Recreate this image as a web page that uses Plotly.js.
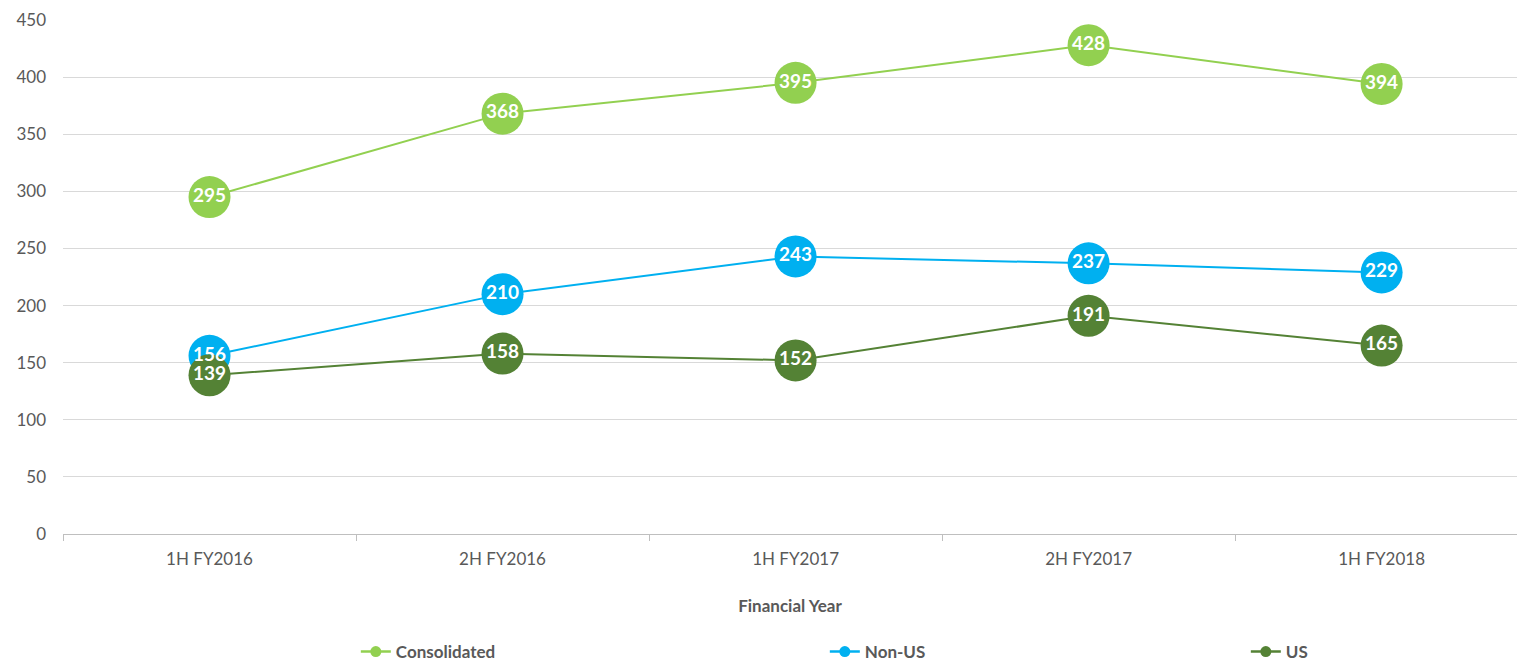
<!DOCTYPE html>
<html>
<head>
<meta charset="utf-8">
<script src="https://cdn.plot.ly/plotly-3.0.1.min.js"></script>
<style>html,body{margin:0;padding:0;background:#fff;}#chart{width:1517px;height:661px;}</style>
</head>
<body>
<div id="chart"></div>
<script>
const categories = ["1H FY2016", "2H FY2016", "1H FY2017", "2H FY2017", "1H FY2018"];
const consolidated = [295, 368, 395, 428, 394];
const nonUS = [156, 210, 243, 237, 229];
const us = [139, 158, 152, 191, 165];
const yTicks = [0, 50, 100, 150, 200, 250, 300, 350, 400, 450];

const FONT = "Lato, 'Noto Sans', sans-serif";
const series = [
  {name: "Consolidated", y: consolidated, color: "#92D050", legend: "legend"},
  {name: "Non-US", y: nonUS, color: "#00B0F0", legend: "legend2"},
  {name: "US", y: us, color: "#548235", legend: "legend3"}
];

const traces = [];
// lines and markers first
series.forEach(s => {
  traces.push({
    type: "scatter", mode: "lines+markers",
    x: categories, y: s.y, name: s.name, showlegend: false,
    line: {color: s.color, width: 2},
    marker: {color: s.color, size: 42},
    hoverinfo: "x+y+name"
  });
});
// data labels on top of all markers (as in the reference)
series.forEach(s => {
  traces.push({
    type: "scatter", mode: "text",
    x: categories, y: s.y, name: s.name, showlegend: false,
    text: s.y.map(String), textposition: "middle center",
    textfont: {color: "#ffffff", size: 19, family: FONT, weight: "bold"},
    hoverinfo: "skip"
  });
});
// legend entries
series.forEach(s => {
  traces.push({
    type: "scatter", mode: "lines+markers",
    x: [null], y: [null], name: s.name, showlegend: true, legend: s.legend,
    line: {color: s.color, width: 2.5},
    marker: {color: s.color, size: 11}
  });
});

const legendBase = {orientation: "h", xref: "paper", yref: "container", yanchor: "middle", xanchor: "left",
  y: 9 / 661, font: {family: FONT, size: 17, color: "#595959", weight: "bold"}, bgcolor: "rgba(0,0,0,0)", itemwidth: 30};

const layout = {
  width: 1517, height: 661,
  margin: {l: 63, r: 0, t: 20, b: 127},
  paper_bgcolor: "#ffffff", plot_bgcolor: "#ffffff",
  font: {family: FONT, color: "#595959"},
  xaxis: {
    type: "category", range: [-0.5, 4.462],
    showgrid: false, zeroline: false,
    showline: true, linecolor: "#BFBFBF", linewidth: 1,
    ticks: "outside", tickson: "boundaries", ticklen: 6, tickcolor: "#BFBFBF",
    tickfont: {size: 17, color: "#595959", family: FONT},
    ticklabelstandoff: 10,
    title: {text: "Financial Year", font: {size: 17, color: "#595959", family: FONT, weight: "bold"}, standoff: 31}
  },
  yaxis: {
    range: [0, 450], tickvals: yTicks, ticktext: yTicks.map(String),
    showgrid: true, gridcolor: "#D9D9D9", gridwidth: 1,
    zeroline: false, showline: false, ticks: "",
    tickfont: {size: 17, color: "#595959", family: FONT},
    ticklabelstandoff: 16
  },
  legend: Object.assign({}, legendBase, {x: (366 - 63) / 1454 - 0.007}),
  legend2: Object.assign({}, legendBase, {x: (835 - 63) / 1454 - 0.007}),
  legend3: Object.assign({}, legendBase, {x: (1256 - 63) / 1454 - 0.007}),
  showlegend: true
};

Plotly.newPlot("chart", traces, layout, {displayModeBar: false, responsive: false});
</script>
</body>
</html>
